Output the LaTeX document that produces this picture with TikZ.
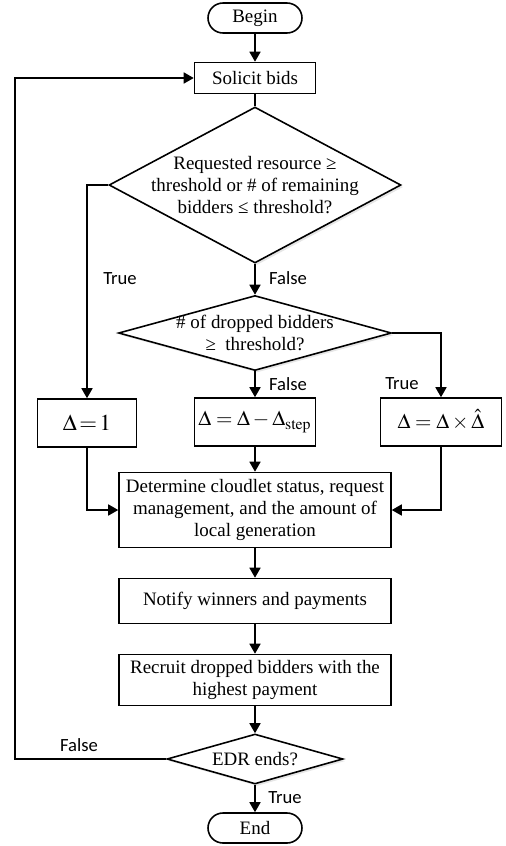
\documentclass[tikz,border=0pt]{standalone}
\usepackage{mathptmx}
\usepackage{fontspec}
\setmainfont{Liberation Serif}
\newfontfamily\lblfont{Carlito}
\usetikzlibrary{shapes.geometric,arrows.meta,shadows}

\begin{document}
\begin{tikzpicture}[x=0.02cm,y=-0.02cm,line width=0.9pt,
  font=\fontsize{10.8}{12.5}\selectfont,
  box/.style={draw,rectangle,inner sep=0pt,align=center,minimum width=5.44cm},
  term/.style={draw,rectangle,rounded corners=0.3cm,inner sep=0pt,
            minimum width=1.88cm,minimum height=0.6cm},
  dec/.style={draw,diamond,inner sep=-1cm,align=center,fill=white,
            drop shadow={shadow xshift=1.2pt,shadow yshift=-1.2pt,opacity=0.2}},
  lbl/.style={font=\lblfont\fontsize{10.6}{12}\selectfont},
  arr/.style={-{Triangle[length=0.2cm,width=0.22cm]}}]
\useasboundingbox (0,0) rectangle (505,846);
\node[term] (begin) at (255,18) {Begin};
\node[box,minimum width=2.42cm,minimum height=0.62cm] (sol) at (255,78) {Solicit bids};
\node[dec,minimum width=5.84cm,minimum height=3.12cm] (d1) at (255,185)
     {Requested resource ≥\\threshold or \# of remaining\\bidders ≤ threshold?};
\node[dec,minimum width=5.46cm,minimum height=1.5cm] (d2) at (255,333)
     {\# of dropped bidders\\≥\ \ threshold?};
\node[box,minimum width=1.98cm,minimum height=0.96cm] (b1) at (87,423)
     {\fontsize{13}{15}\selectfont\thickmuskip=2mu$\Delta=1$};
\node[box,minimum width=2.42cm,minimum height=0.96cm] (b2) at (255,422)
     {\fontsize{12}{14}\selectfont$\Delta=\Delta-\Delta_{\mathrm{step}}$};
\node[box,minimum width=2.42cm,minimum height=0.96cm] (b3) at (441,422)
     {\fontsize{12}{14}\selectfont$\Delta=\Delta\times\smash{\hat{\Delta}}$};
\node[box,minimum height=1.5cm] (det) at (255,510)
     {Determine cloudlet status, request\\management, and the amount of\\local generation};
\node[box,minimum height=0.9cm] (note) at (255,601) {Notify winners and payments};
\node[box,minimum height=1.02cm] (rec) at (255,680)
     {Recruit dropped bidders with the\\highest payment};
\node[dec,minimum width=3.52cm,minimum height=1cm] (edr) at (255,759) {EDR ends?};
\node[term] (end) at (255,828) {End};
\coordinate (back) at (15,759);
\node[lbl] (t1) at (120,279) {True};
\node[lbl] (f1) at (288,278) {False};
\node[lbl] (f2) at (288,384) {False};
\node[lbl] (t2) at (402,384) {True};
\node[lbl] (f3) at (79,745) {False};
\node[lbl] (t3) at (285,798) {True};
\draw[arr] (begin) -- (sol);
\draw (sol) -- (d1);
\draw[arr] (d1) -- (d2);
\draw[arr] (d1.west) -| (b1.north);
\draw[arr] (d2.east) -| (b3.north);
\draw[arr] (d2) -- (b2);
\draw[arr] (b2) -- (det);
\draw[arr] (b1.south) |- (det.west);
\draw[arr] (b3.south) |- (det.east);
\draw[arr] (det) -- (note);
\draw[arr] (note) -- (rec);
\draw[arr] (rec) -- (edr);
\draw[arr] (edr) -- (end);
\draw[arr] (edr.west) -- (back) |- (sol.west);
\end{tikzpicture}
\end{document}
